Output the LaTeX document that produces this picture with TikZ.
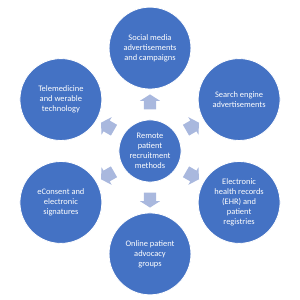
\documentclass[tikz,border=0pt]{standalone}
\usepackage{fontspec}
\setmainfont{Carlito}
\usetikzlibrary{shapes.arrows}
\definecolor{circblue}{HTML}{4472C4}
\definecolor{arrowblue}{HTML}{A9B8DE}
\tikzset{
  method/.style={circle, fill=circblue, draw=white, line width=0.8pt,
    minimum size=2.73cm, inner sep=0pt, align=center, text=white,
    font=\fontsize{8}{9.4}\selectfont},
  core/.style={method, minimum size=2.07cm},
  outarrow/.style={single arrow, fill=arrowblue, draw=none,
    inner xsep=0pt, inner ysep=0.2cm, minimum height=0.5cm,
    single arrow head extend=0.133cm, single arrow tip angle=115}
}
\begin{document}
\begin{tikzpicture}
    \useasboundingbox (-5,-4.967) rectangle (5,5.033);
    % 中心
    \node[core] (core) at (0,0) {Remote\\patient\\recruitment\\methods};
    % 外圈
    \node[method] (social) at (90:3.43) {Social media\\advertisements\\and campaigns};
    \node[method] (search) at (30:3.43) {Search engine\\advertisements};
    \node[method] (ehr) at (-30:3.43) {Electronic\\health records\\(EHR) and\\patient\\registries};
    \node[method] (online) at (-90:3.43) {Online patient\\advocacy\\groups};
    \node[method] (econsent) at (210:3.43) {eConsent and\\electronic\\signatures};
    \node[method] (tele) at (150:3.43) {Telemedicine\\and werable\\technology};
    % 箭头
    \node[outarrow, rotate=90] (toSocial) at (90:1.57) {};
    \node[outarrow, rotate=30] (toSearch) at (30:1.57) {};
    \node[outarrow, rotate=-30] (toEhr) at (-30:1.57) {};
    \node[outarrow, rotate=-90] (toOnline) at (-90:1.57) {};
    \node[outarrow, rotate=210] (toEconsent) at (210:1.57) {};
    \node[outarrow, rotate=150] (toTele) at (150:1.57) {};
\end{tikzpicture}
\end{document}
